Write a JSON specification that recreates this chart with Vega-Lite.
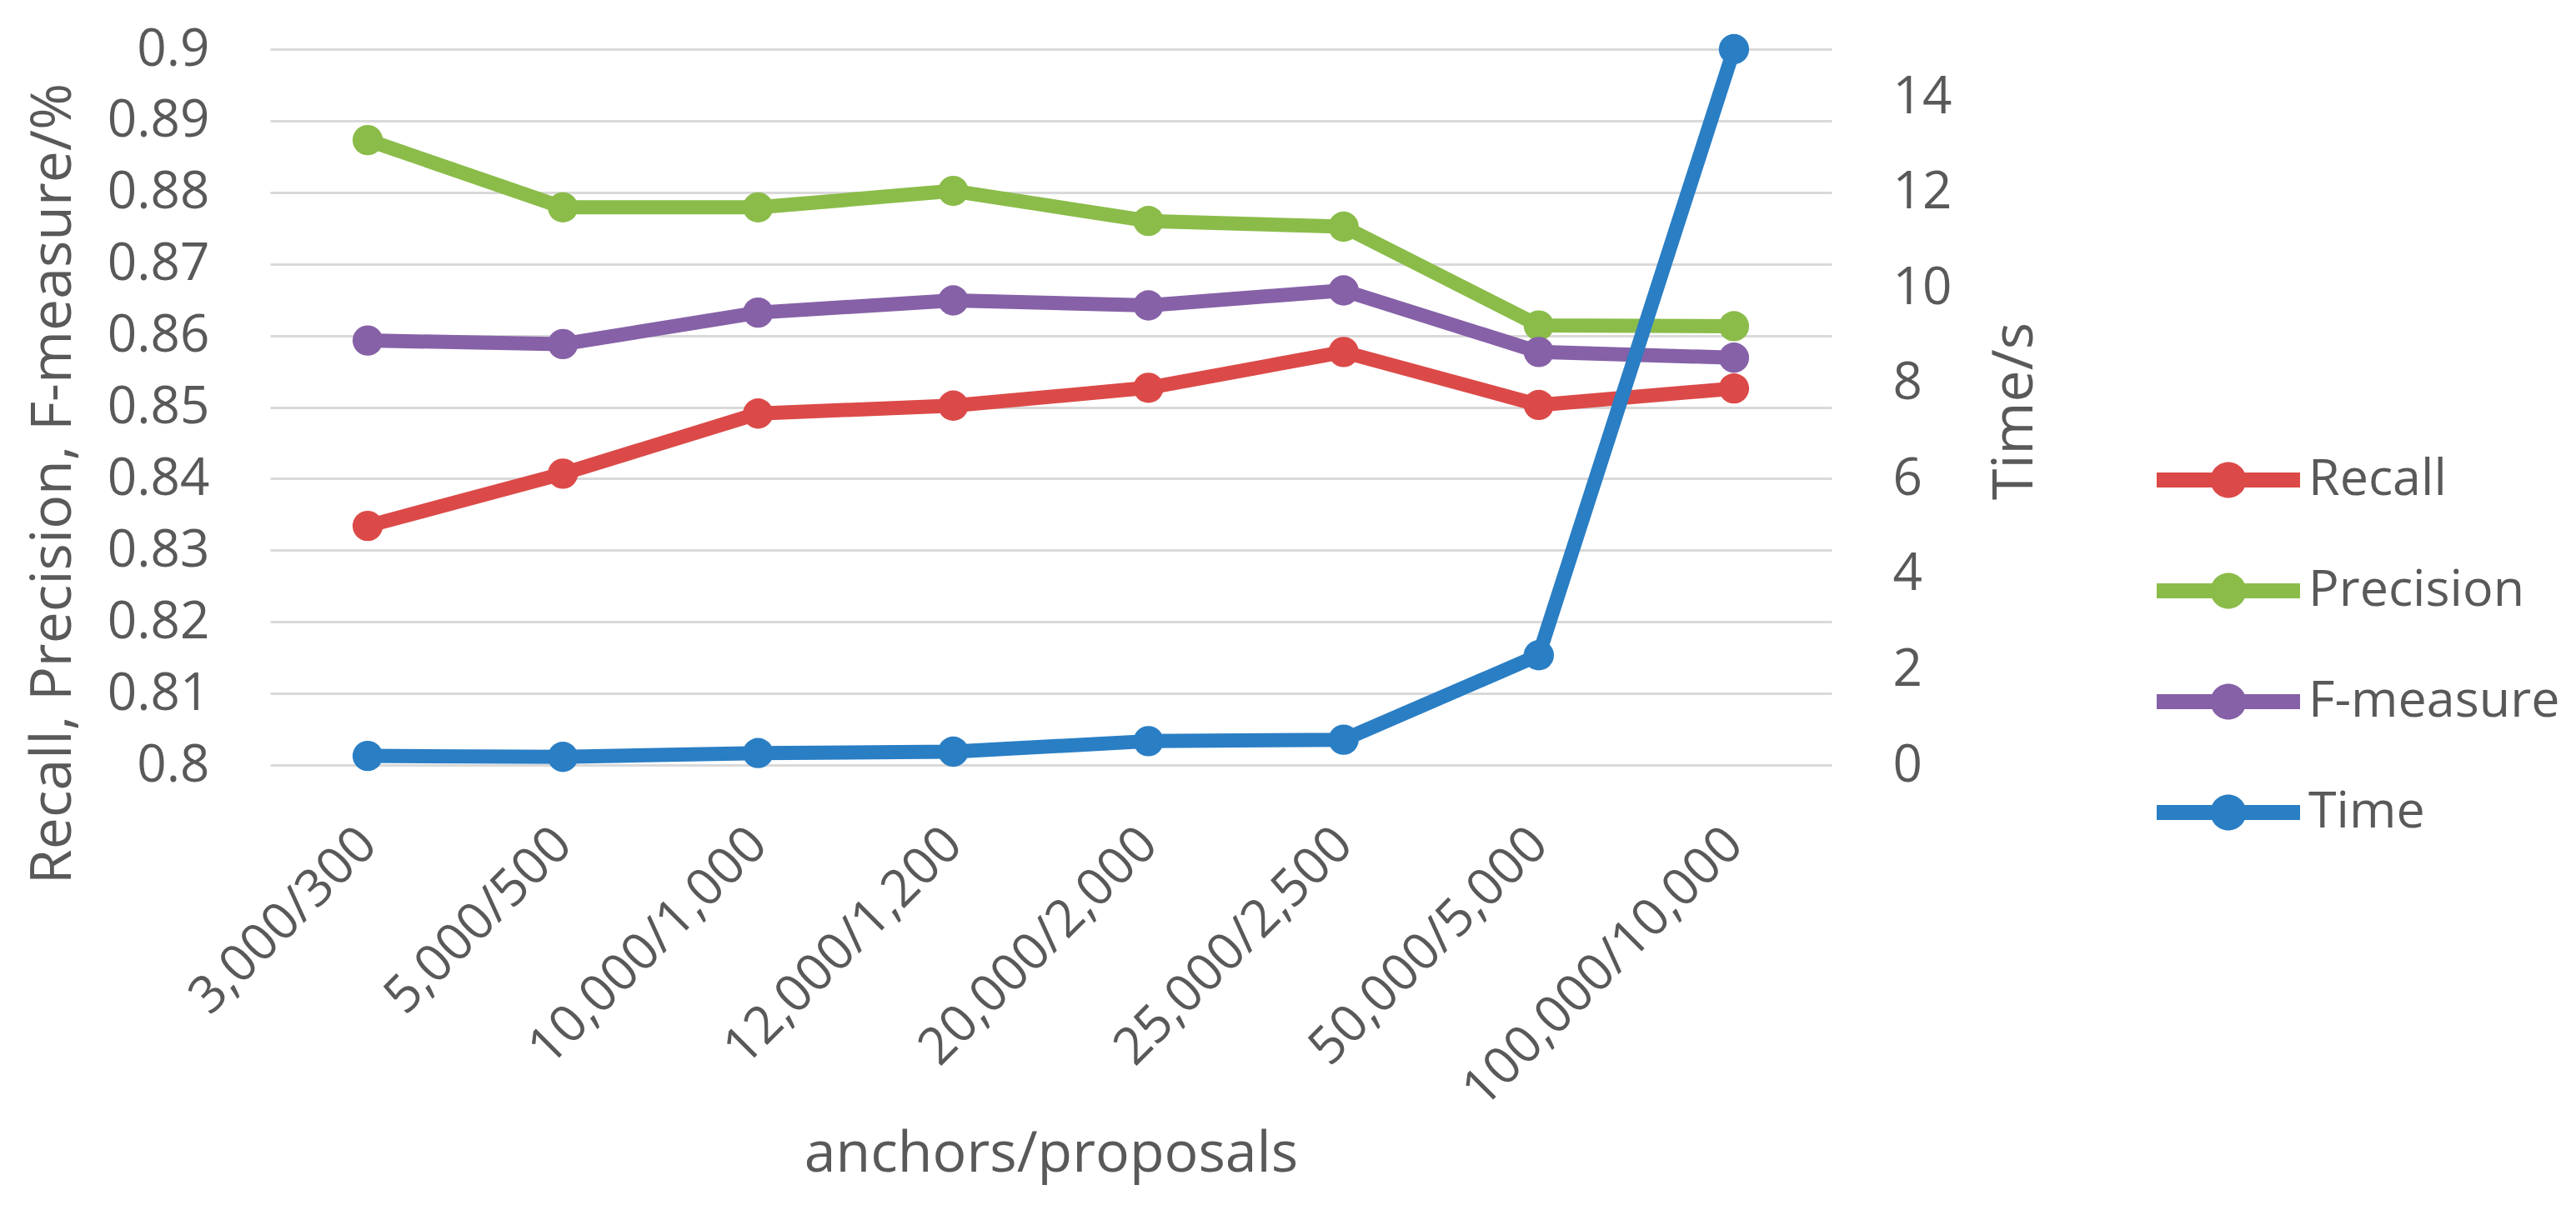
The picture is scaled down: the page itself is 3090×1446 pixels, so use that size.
{
  "$schema": "https://vega.github.io/schema/vega-lite/v6.json",
  "autosize": "none",
  "width": 1873,
  "height": 859,
  "padding": {"left": 324, "top": 59, "right": 893, "bottom": 528},
  "background": "white",
  "config": {
    "view": {"stroke": null},
    "font": "Open Sans",
    "axis": {
      "labelColor": "#595959",
      "titleColor": "#595959",
      "labelFont": "Open Sans",
      "titleFont": "Open Sans",
      "labelFontSize": 62,
      "titleFontSize": 68,
      "titleFontWeight": "normal",
      "domain": false,
      "ticks": false
    }
  },
  "data": {
    "values": [
      {"x": "3,000/300", "metric": "Recall", "value": 0.8334},
      {"x": "5,000/500", "metric": "Recall", "value": 0.8407},
      {"x": "10,000/1,000", "metric": "Recall", "value": 0.8491},
      {"x": "12,000/1,200", "metric": "Recall", "value": 0.8502},
      {"x": "20,000/2,000", "metric": "Recall", "value": 0.8527},
      {"x": "25,000/2,500", "metric": "Recall", "value": 0.8577},
      {"x": "50,000/5,000", "metric": "Recall", "value": 0.8503},
      {"x": "100,000/10,000", "metric": "Recall", "value": 0.8526},
      {"x": "3,000/300", "metric": "Precision", "value": 0.8873},
      {"x": "5,000/500", "metric": "Precision", "value": 0.8779},
      {"x": "10,000/1,000", "metric": "Precision", "value": 0.8779},
      {"x": "12,000/1,200", "metric": "Precision", "value": 0.8802},
      {"x": "20,000/2,000", "metric": "Precision", "value": 0.876},
      {"x": "25,000/2,500", "metric": "Precision", "value": 0.8752},
      {"x": "50,000/5,000", "metric": "Precision", "value": 0.8614},
      {"x": "100,000/10,000", "metric": "Precision", "value": 0.8613},
      {"x": "3,000/300", "metric": "F-measure", "value": 0.8593},
      {"x": "5,000/500", "metric": "F-measure", "value": 0.8588},
      {"x": "10,000/1,000", "metric": "F-measure", "value": 0.8632},
      {"x": "12,000/1,200", "metric": "F-measure", "value": 0.8649},
      {"x": "20,000/2,000", "metric": "F-measure", "value": 0.8642},
      {"x": "25,000/2,500", "metric": "F-measure", "value": 0.8663},
      {"x": "50,000/5,000", "metric": "F-measure", "value": 0.8577},
      {"x": "100,000/10,000", "metric": "F-measure", "value": 0.8569},
      {"x": "3,000/300", "metric": "Time", "value": 0.19},
      {"x": "5,000/500", "metric": "Time", "value": 0.17},
      {"x": "10,000/1,000", "metric": "Time", "value": 0.25},
      {"x": "12,000/1,200", "metric": "Time", "value": 0.28},
      {"x": "20,000/2,000", "metric": "Time", "value": 0.5},
      {"x": "25,000/2,500", "metric": "Time", "value": 0.53},
      {"x": "50,000/5,000", "metric": "Time", "value": 2.3},
      {"x": "100,000/10,000", "metric": "Time", "value": 15.0}
    ]
  },
  "layer": [
    {
      "transform": [{"filter": "datum.metric !== 'Time'"}],
      "encoding": {
        "x": {
          "field": "x", "type": "nominal", "sort": null,
          "axis": {"title": "anchors/proposals", "labelAngle": -45, "labelAlign": "right", "labelBaseline": "middle", "labelPadding": 85, "labelLimit": 0, "titleY": 487, "titleBaseline": "alphabetic", "grid": false}
        },
        "y": {
          "field": "value", "type": "quantitative",
          "scale": {"domain": [0.8, 0.9], "nice": false, "zero": false},
          "axis": {
            "orient": "left",
            "title": "Recall, Precision, F-measure/%",
            "values": [0.8, 0.81, 0.82, 0.83, 0.84, 0.85, 0.86, 0.87, 0.88, 0.89, 0.9],
            "format": ".2~f",
            "labelPadding": 73,
            "grid": true, "gridColor": "#D9D9D9", "gridWidth": 3,
            "titleX": -260, "titleY": 521, "titleAngle": 270, "titleAlign": "center", "titleBaseline": "middle"
          }
        },
        "color": {
          "field": "metric", "type": "nominal",
          "scale": {"domain": ["Recall", "Precision", "F-measure", "Time"], "range": ["#DB4A48", "#8BBC4A", "#8661A7", "#2A7EC4"]},
          "legend": {
            "title": null, "orient": "none", "legendX": 2263, "legendY": 431, "padding": 0,
            "symbolType": "M-1,-0.105 L1,-0.105 L1,0.105 L-1,0.105 Z M0.25,0 A0.25,0.25 0 1,1 -0.25,0 A0.25,0.25 0 1,1 0.25,0 Z",
            "symbolSize": 29584, "symbolStrokeWidth": 0, "rowPadding": 17, "labelOffset": 10,
            "labelFont": "Open Sans", "labelFontSize": 61, "labelColor": "#595959", "labelLimit": 600,
            "encode": {"symbols": {"update": {"fill": {"scale": "color", "field": "value"}, "strokeWidth": {"value": 0}, "opacity": {"value": 1}}}}
          }
        }
      },
      "layer": [
        {"mark": {"type": "line", "strokeWidth": 17, "strokeCap": "round", "strokeJoin": "round"}},
        {"mark": {"type": "point", "filled": true, "size": 1320, "opacity": 1}}
      ]
    },
    {
      "transform": [{"filter": "datum.metric === 'Time'"}],
      "encoding": {
        "x": {"field": "x", "type": "nominal", "sort": null},
        "y": {
          "field": "value", "type": "quantitative",
          "scale": {"domain": [0, 15], "nice": false},
          "axis": {
            "orient": "right", "title": "Time/s",
            "values": [0, 2, 4, 6, 8, 10, 12, 14],
            "labelPadding": 73, "grid": false,
            "titleX": 220, "titleY": 434, "titleAngle": 270, "titleAlign": "center", "titleBaseline": "middle"
          }
        },
        "color": {"field": "metric", "type": "nominal"}
      },
      "layer": [
        {"mark": {"type": "line", "strokeWidth": 17, "strokeCap": "round", "strokeJoin": "round"}},
        {"mark": {"type": "point", "filled": true, "size": 1320, "opacity": 1}}
      ]
    }
  ],
  "resolve": {"scale": {"y": "independent"}}
}
